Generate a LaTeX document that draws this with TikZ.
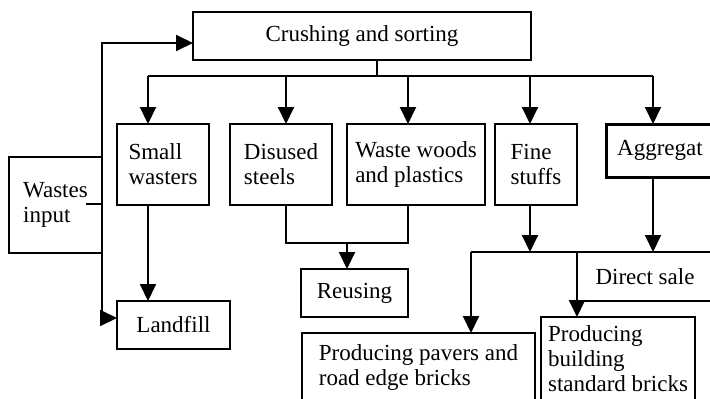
\documentclass[tikz,border=0pt]{standalone}
\usepackage{fontspec}
\setmainfont{Liberation Serif}
\usetikzlibrary{arrows.meta}
\tikzset{
  box/.style={draw, line width=2pt, inner sep=0pt, outer sep=0pt, align=left,
    font=\fontsize{23}{25}\selectfont},
  conn/.style={line width=2pt},
  arr/.style={line width=2pt, -{Triangle[length=17pt,width=16pt]}},
}
\begin{document}
\begin{tikzpicture}[x=1pt,y=-1pt]
\useasboundingbox (0,0) rectangle (710,399);
\clip (0,0) rectangle (710,399);
% boxes
\node[box, minimum width=338pt, minimum height=48pt] (crush) at (362,36) {Crushing and sorting};
\node[box, minimum width=93pt, minimum height=96pt] (wastes) at (55.5,205) {\raisebox{-2pt}{\begin{tabular}{@{}l@{}}Wastes\\input\end{tabular}}};
\node[box, minimum width=92pt, minimum height=81pt] (small) at (163,164.5) {Small\\wasters};
\node[box, minimum width=102pt, minimum height=81pt] (steel) at (281,164.5) {Disused\\steels};
\node[box, minimum width=138pt, minimum height=81pt] (wood) at (416,164.5) {Waste woods\\and plastics};
\node[box, minimum width=82pt, minimum height=81pt] (fine) at (536,164.5) {Fine\\stuffs};
\node[box, line width=3pt, minimum width=108pt, minimum height=53pt] (aggr) at (660,150.5) {Aggregat};
\node[box, minimum width=113pt, minimum height=48pt] (landfill) at (173.5,325) {Landfill};
\node[box, minimum width=107pt, minimum height=48pt] (reuse) at (354.5,293) {Reusing};
\node[box, minimum width=136pt, minimum height=49pt] (direct) at (645,276.5) {Direct sale};
\node[box, minimum width=233pt, minimum height=69pt] (pavers) at (418.5,367.5) {Producing pavers and\\road edge bricks};
\node[box, minimum width=154pt, minimum height=84pt] (build) at (618,359) {Producing\\building\\standard bricks};
% bus coordinates
\coordinate (b0) at (377,76);
\coordinate (b1) at (148,76);
\coordinate (b2) at (286,76);
\coordinate (b3) at (408,76);
\coordinate (b4) at (530,76);
\coordinate (b5) at (653,76);
\coordinate (wt) at (102,43);
\coordinate (wb) at (102,318);
\coordinate (r1) at (286,243);
\coordinate (r2) at (408,243);
\coordinate (r0) at (347,243);
\coordinate (d0) at (471,252);
% connectors
\draw[conn] (crush.south -| b0) -- (b0);
\draw[conn] (b1) -- (b5);
\draw[arr] (b1) -- (b1 |- small.north);
\draw[arr] (b2) -- (b2 |- steel.north);
\draw[arr] (b3) -- (b3 |- wood.north);
\draw[arr] (b4) -- (b4 |- fine.north);
\draw[arr] (b5) -- (b5 |- aggr.north);
\draw[arr] (wastes.north east) -- (wt) -- (wt -| crush.west);
\draw[arr] (wastes.south east) -- (wb) -- (wb -| landfill.west);
\draw[conn] ([yshift=1pt]wastes.east) -- ++(-16,0);
\draw[arr] (b1 |- small.south) -- (b1 |- landfill.north);
\draw[conn] (b2 |- steel.south) -- (r1) -- (r2) -- (b3 |- wood.south);
\draw[arr] (r0) -- (r0 |- reuse.north);
\draw[arr] (b4 |- fine.south) -- (b4 |- direct.north);
\draw[arr] (b5 |- aggr.south) -- (b5 |- direct.north);
\draw[conn] (d0) -- (direct.north west);
\draw[arr] (d0) -- (d0 |- pavers.north);
\draw[arr] (direct.north west) -- (direct.north west |- build.north);
\end{tikzpicture}
\end{document}
